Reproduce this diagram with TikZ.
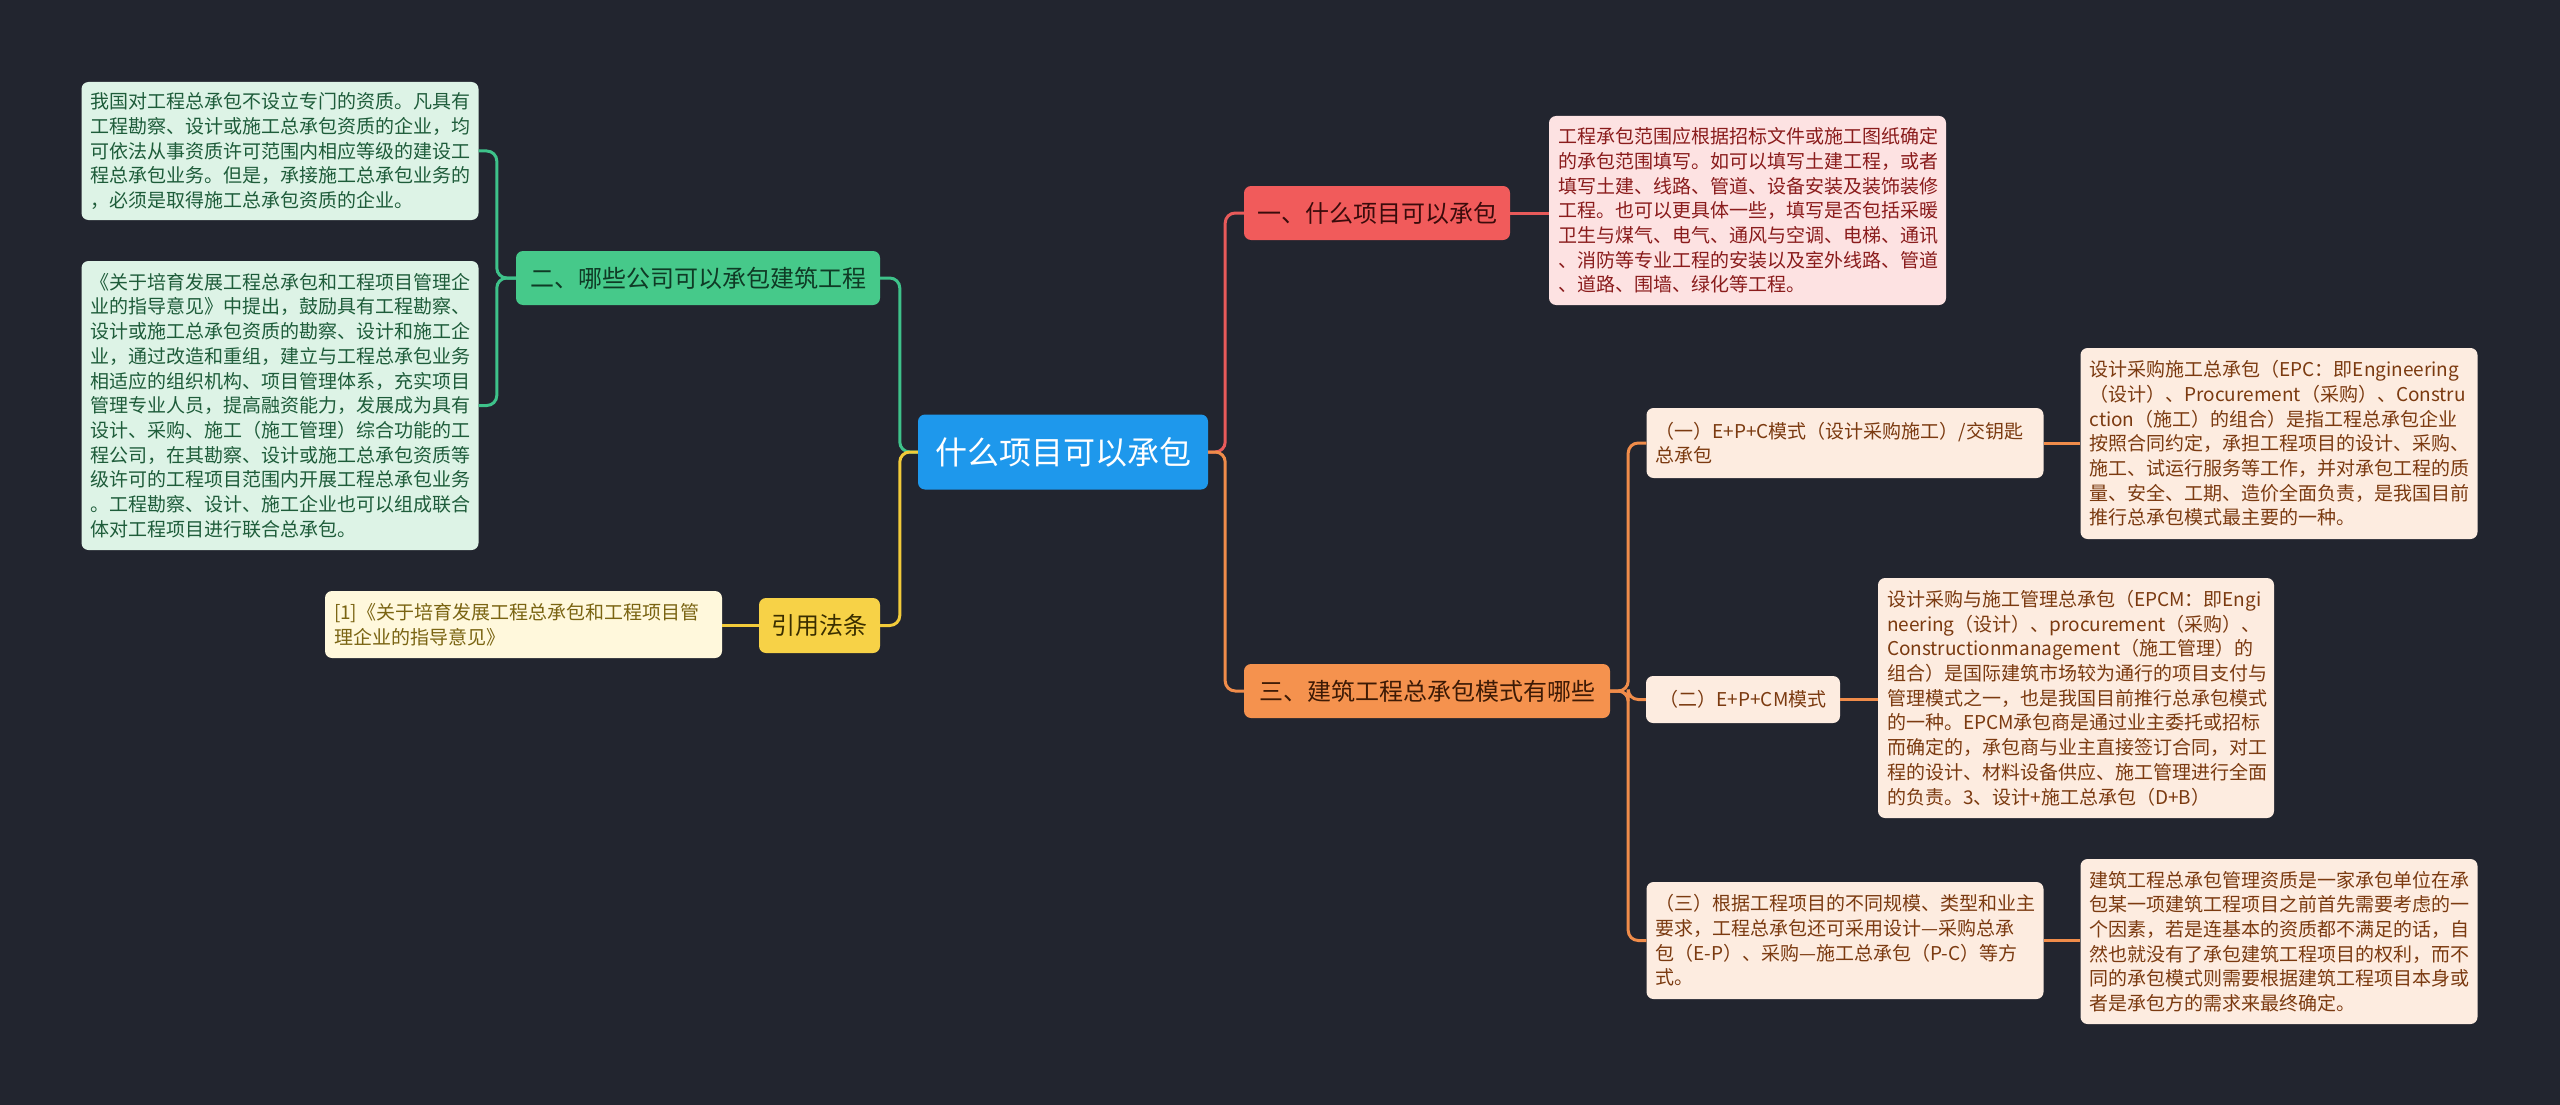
\documentclass[tikz,border=0pt]{standalone}
\usepackage{fontspec}
\setmainfont{Noto Sans CJK SC}
\usetikzlibrary{backgrounds}
\definecolor{bg}{HTML}{22252F}
\definecolor{rootc}{HTML}{1E98EC}
\definecolor{c1}{HTML}{F15B5B}
\definecolor{t1}{HTML}{3A0B0B}
\definecolor{l1}{HTML}{FDE2E2}
\definecolor{lt1}{HTML}{8A1C1C}
\definecolor{c2}{HTML}{46C98A}
\definecolor{t2}{HTML}{0F3A25}
\definecolor{l2}{HTML}{DDF3E6}
\definecolor{lt2}{HTML}{1E5C3A}
\definecolor{c3}{HTML}{F5924E}
\definecolor{t3}{HTML}{3D1A05}
\definecolor{l3}{HTML}{FDECE0}
\definecolor{lt3}{HTML}{7B3A10}
\definecolor{c4}{HTML}{F7D247}
\definecolor{t4}{HTML}{3A2E00}
\definecolor{l4}{HTML}{FFF8DC}
\definecolor{lt4}{HTML}{7A6412}
\definecolor{lnred}{HTML}{E85A5A}
\definecolor{lnorange}{HTML}{F08C4A}
\definecolor{lngreen}{HTML}{3EC28A}
\definecolor{lnyellow}{HTML}{F2CB3A}
\tikzset{
  box/.style={rounded corners=7pt, inner ysep=0pt},
  rootbox/.style={box, fill=rootc, text=white, font=\fontsize{32}{38}\selectfont, minimum width=290pt, minimum height=75pt, align=center, inner xsep=0pt},
  brbox/.style={box, font=\fontsize{24}{29}\selectfont, minimum height=54pt, align=center, inner xsep=0pt},
  leafbox/.style={box, font=\fontsize{19}{24.7}\selectfont, inner xsep=9pt, text width=379pt, align=left},
  link/.style={line width=3pt, rounded corners=10pt}
}
\begin{document}
\begin{tikzpicture}[x=1pt,y=-1pt]
\useasboundingbox (0,0) rectangle (2560,1105);
\begin{scope}[on background layer]
\fill[bg] (0,0) rectangle (2560,1105);
\end{scope}

% root and main branches
\node[rootbox] (root) at (1063,452) {什么项目可以承包};
\node[brbox, fill=c1, text=t1, minimum width=266pt] (b1) at (1377,213) {一、什么项目可以承包};
\node[brbox, fill=c2, text=t2, minimum width=364pt] (b2) at (698,278) {二、哪些公司可以承包建筑工程};
\node[brbox, fill=c3, text=t3, minimum width=366pt] (b3) at (1427,691) {三、建筑工程总承包模式有哪些};
\node[brbox, fill=c4, text=t4, minimum width=121pt, minimum height=55pt] (b4) at (819.5,625.5) {引用法条};

% leaves
\node[leafbox, fill=l1, text=lt1, minimum height=189pt] (l1) at (1747.5,210.5) {工程承包范围应根据招标文件或施工图纸确定\\的承包范围填写。如可以填写土建工程，或者\\填写土建、线路、管道、设备安装及装饰装修\\工程。也可以更具体一些，填写是否包括采暖\\卫生与煤气、电气、通风与空调、电梯、通讯\\、消防等专业工程的安装以及室外线路、管道\\、道路、围墙、绿化等工程。};

\node[leafbox, fill=l2, text=lt2, minimum height=138pt] (l2a) at (280,151) {我国对工程总承包不设立专门的资质。凡具有\\工程勘察、设计或施工总承包资质的企业，均\\可依法从事资质许可范围内相应等级的建设工\\程总承包业务。但是，承接施工总承包业务的\\，必须是取得施工总承包资质的企业。};

\node[leafbox, fill=l2, text=lt2, minimum height=289pt] (l2b) at (280,405.5) {《关于培育发展工程总承包和工程项目管理企\\业的指导意见》中提出，鼓励具有工程勘察、\\设计或施工总承包资质的勘察、设计和施工企\\业，通过改造和重组，建立与工程总承包业务\\相适应的组织机构、项目管理体系，充实项目\\管理专业人员，提高融资能力，发展成为具有\\设计、采购、施工（施工管理）综合功能的工\\程公司，在其勘察、设计或施工总承包资质等\\级许可的工程项目范围内开展工程总承包业务\\。工程勘察、设计、施工企业也可以组成联合\\体对工程项目进行联合总承包。};

\node[leafbox, fill=l4, text=lt4, minimum height=67pt] (l4) at (523.5,624.5) {[1]《关于培育发展工程总承包和工程项目管\\理企业的指导意见》};

\node[leafbox, fill=l3, text=lt3, minimum height=70pt] (s1) at (1845,443) {（一）E+P+C模式（设计采购施工）/交钥匙\\总承包};
\node[box, fill=l3, text=lt3, font=\fontsize{19}{24.7}\selectfont, minimum width=194pt, minimum height=47pt, inner xsep=0pt] (s2) at (1743,699.5) {（二）E+P+CM模式};
\node[leafbox, fill=l3, text=lt3, minimum height=117pt] (s3) at (1845,940.5) {（三）根据工程项目的不同规模、类型和业主\\要求，工程总承包还可采用设计—采购总承\\包（E-P）、采购—施工总承包（P-C）等方\\式。};

\node[leafbox, fill=l3, text=lt3, minimum height=191pt] (l31) at (2279,443.5) {设计采购施工总承包（EPC：即Engineering\\（设计）、Procurement（采购）、Constru\\ction（施工）的组合）是指工程总承包企业\\按照合同约定，承担工程项目的设计、采购、\\施工、试运行服务等工作，并对承包工程的质\\量、安全、工期、造价全面负责，是我国目前\\推行总承包模式最主要的一种。};

\node[leafbox, fill=l3, text=lt3, text width=378pt, minimum height=240pt] (l32) at (2076,698) {设计采购与施工管理总承包（EPCM：即Engi\\neering（设计）、procurement（采购）、\\Constructionmanagement（施工管理）的\\组合）是国际建筑市场较为通行的项目支付与\\管理模式之一，也是我国目前推行总承包模式\\的一种。EPCM承包商是通过业主委托或招标\\而确定的，承包商与业主直接签订合同，对工\\程的设计、材料设备供应、施工管理进行全面\\的负责。3、设计+施工总承包（D+B）};

\node[leafbox, fill=l3, text=lt3, minimum height=165pt] (l33) at (2279,941.5) {建筑工程总承包管理资质是一家承包单位在承\\包某一项建筑工程项目之前首先需要考虑的一\\个因素，若是连基本的资质都不满足的话，自\\然也就没有了承包建筑工程项目的权利，而不\\同的承包模式则需要根据建筑工程项目本身或\\者是承包方的需求来最终确定。};

% connectors
\draw[link, lnred] (root.east) -- ++(17,0) |- (b1.west);
\draw[link, lnorange] (root.east) -- ++(17,0) |- (b3.west);
\draw[link, lngreen] (root.west) -- ++(-18,0) |- (b2.east);
\draw[link, lnyellow] (root.west) -- ++(-18,0) |- (b4.east);

\draw[link, lnred] (b1.east) -- (b1.east -| l1.west);
\draw[link, lngreen] (b2.west) -- ++(-19,0) |- (l2a.east);
\draw[link, lngreen] (b2.west) -- ++(-19,0) |- (l2b.east);
\draw[link, lnyellow] (b4.west) -- (b4.west -| l4.east);

\draw[link, lnorange] (b3.east) -- ++(18,0) |- (s1.west);
\draw[link, lnorange] (b3.east) -- ++(18,0) |- (s2.west);
\draw[link, lnorange] (b3.east) -- ++(18,0) |- (s3.west);

\draw[link, lnorange] (s1.east) -- (s1.east -| l31.west);
\draw[link, lnorange] (s2.east) -- (s2.east -| l32.west);
\draw[link, lnorange] (s3.east) -- (s3.east -| l33.west);
\end{tikzpicture}
\end{document}
